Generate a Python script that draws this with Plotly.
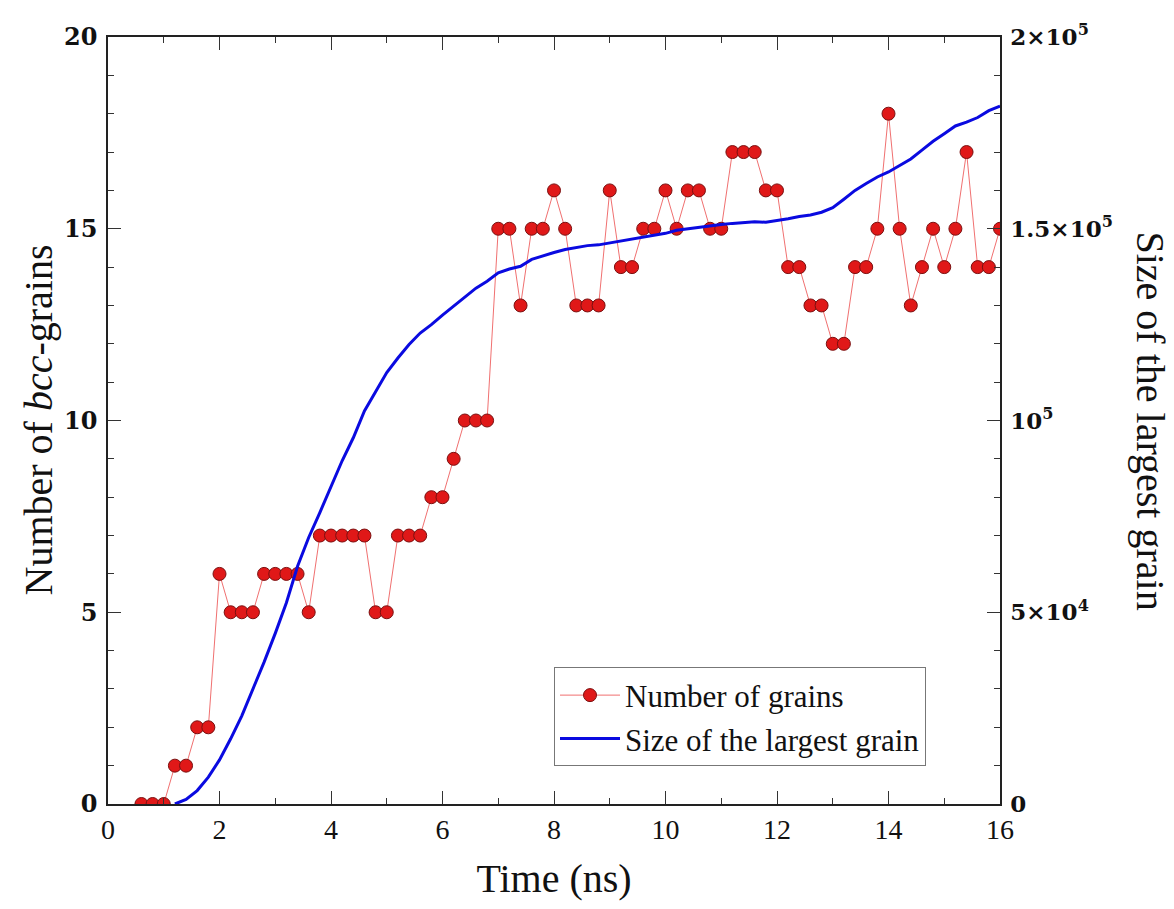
import plotly.graph_objects as go

# Number of bcc grains (left axis)
t_grains = [0.6, 0.8, 1.0, 1.2, 1.4, 1.6, 1.8, 2.0, 2.2, 2.4, 2.6, 2.8, 3.0, 3.2, 3.4, 3.6,
            3.8, 4.0, 4.2, 4.4, 4.6, 4.8, 5.0, 5.2, 5.4, 5.6, 5.8, 6.0, 6.2, 6.4, 6.6, 6.8,
            7.0, 7.2, 7.4, 7.6, 7.8, 8.0, 8.2, 8.4, 8.6, 8.8, 9.0, 9.2, 9.4, 9.6, 9.8, 10.0,
            10.2, 10.4, 10.6, 10.8, 11.0, 11.2, 11.4, 11.6, 11.8, 12.0, 12.2, 12.4, 12.6,
            12.8, 13.0, 13.2, 13.4, 13.6, 13.8, 14.0, 14.2, 14.4, 14.6, 14.8, 15.0, 15.2,
            15.4, 15.6, 15.8, 16.0]
n_grains = [0, 0, 0, 1, 1, 2, 2, 6, 5, 5, 5, 6, 6, 6, 6, 5,
            7, 7, 7, 7, 7, 5, 5, 7, 7, 7, 8, 8, 9, 10, 10, 10,
            15, 15, 13, 15, 15, 16, 15, 13, 13, 13, 16, 14, 14, 15, 15, 16,
            15, 16, 16, 15, 15, 17, 17, 17, 16, 16, 14, 14, 13,
            13, 12, 12, 14, 14, 15, 18, 15, 13, 14, 15, 14, 15,
            17, 14, 14, 15]

# Size of the largest grain (right axis)
t_size = [1.2, 1.4, 1.6, 1.8, 2.0, 2.2, 2.4, 2.6, 2.8, 3.0, 3.2, 3.4, 3.6, 3.8, 4.0,
          4.2, 4.4, 4.6, 4.8, 5.0, 5.2, 5.4, 5.6, 5.8, 6.0, 6.2, 6.4, 6.6, 6.8, 7.0,
          7.2, 7.4, 7.6, 7.8, 8.0, 8.2, 8.4, 8.6, 8.8, 9.0, 9.2, 9.4, 9.6, 9.8, 10.0,
          10.2, 10.4, 10.6, 10.8, 11.0, 11.2, 11.4, 11.6, 11.8, 12.0, 12.2, 12.4, 12.6,
          12.8, 13.0, 13.2, 13.4, 13.6, 13.8, 14.0, 14.2, 14.4, 14.6, 14.8, 15.0, 15.2,
          15.4, 15.6, 15.8, 16.0]
s_size = [0, 1200, 3500, 7000, 11500, 17000, 23000, 29800, 37000, 44500, 52500, 62000,
          69500, 76000, 83000, 89500, 95500, 102500, 107500, 112500, 116300, 119800,
          122800, 125000, 127500, 129800, 132000, 134500, 136300, 138500, 139500, 140200,
          142000, 143000, 143800, 144600, 145200, 145600, 145800, 146300, 146800, 147200,
          147700, 148200, 148800, 149600, 150000, 150400, 150800, 151100, 151400, 151600,
          151800, 151700, 152100, 152600, 153200, 153600, 154300, 155500, 157700, 160000,
          161800, 163500, 164800, 166500, 168200, 170500, 172800, 174800, 176800, 177800,
          179000, 180800, 182000]

y2_tickvals = [0, 50000, 100000, 150000, 200000]
y2_ticktext = ["0", "5×10<sup>4</sup>", "10<sup>5</sup>", "1.5×10<sup>5</sup>", "2×10<sup>5</sup>"]

serif = "Liberation Serif"
bold_num = "DejaVu Serif"

fig = go.Figure()
fig.add_trace(go.Scatter(
    x=t_grains, y=n_grains, name="Number of grains", mode="lines+markers",
    line=dict(color="#f07070", width=1),
    marker=dict(size=13, color="#e01818", line=dict(color="#7a1010", width=1)),
))
fig.add_trace(go.Scatter(
    x=t_size, y=s_size, name="Size of the largest grain", mode="lines",
    line=dict(color="#0a0ae0", width=3), yaxis="y2",
))

axis_common = dict(showline=True, linecolor="#222", linewidth=1.5, ticks="inside",
                   tickcolor="#333", tickwidth=1.2, showgrid=False, zeroline=False)

fig.update_layout(
    width=1174, height=909,
    margin=dict(l=100, r=182, t=21, b=113),
    plot_bgcolor="white", paper_bgcolor="white",
    xaxis=dict(range=[0, 16], dtick=2, ticklen=13, mirror="ticks",
               tickfont=dict(family=serif, size=28, color="#111"),
               minor=dict(dtick=1, ticklen=6, ticks="inside", tickcolor="#333"),
               title=dict(text="Time (ns)", font=dict(family=serif, size=40, color="#111"),
                          standoff=20),
               **axis_common),
    yaxis=dict(range=[0, 20], dtick=5, ticklen=13,
               tickfont=dict(family=bold_num, size=24, color="#111", weight="bold"),
               minor=dict(dtick=1, ticklen=6, ticks="inside", tickcolor="#333"),
               ticklabelstandoff=4,
               **axis_common),
    yaxis2=dict(range=[0, 200000], overlaying="y", side="right", ticklen=13,
                tickvals=y2_tickvals, ticktext=y2_ticktext,
                tickfont=dict(family=bold_num, size=23, color="#111", weight="bold"),
                minor=dict(dtick=10000, ticklen=6, ticks="inside", tickcolor="#333"),
                ticklabelstandoff=4,
                **axis_common),
    legend=dict(x=0.5, y=0.178, xanchor="left", yanchor="top",
                bordercolor="#777", borderwidth=1, bgcolor="white",
                font=dict(family=serif, size=31, color="#111"),
                itemwidth=60),
    annotations=[
        dict(text="Number of <i>bcc</i>-grains", xref="paper", yref="paper",
             x=0, y=0.5, xanchor="center", yanchor="middle", xshift=-70,
             textangle=-90, showarrow=False,
             font=dict(family=serif, size=40, color="#111")),
        dict(text="Size of the largest grain", xref="paper", yref="paper",
             x=1, y=0.5, xanchor="center", yanchor="middle", xshift=150,
             textangle=90, showarrow=False,
             font=dict(family=serif, size=40, color="#111")),
    ],
)

fig.write_html("out.html")
